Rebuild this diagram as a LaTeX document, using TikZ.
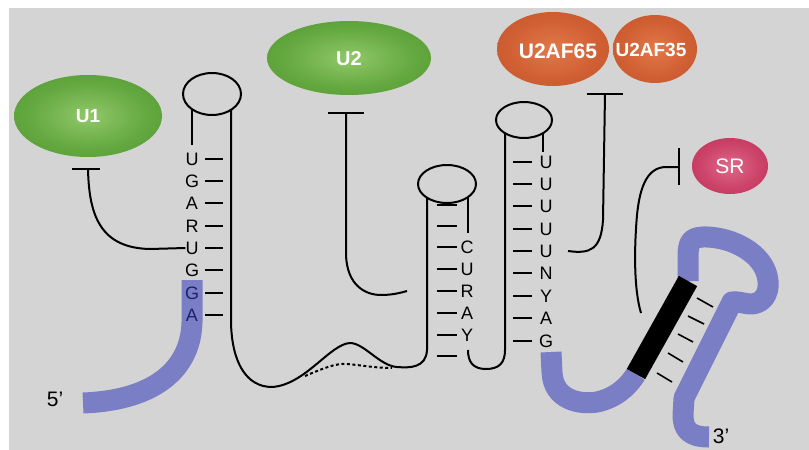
\documentclass[tikz,border=0pt]{standalone}
\usepackage{fontspec}
\setmainfont{Liberation Sans}
\usetikzlibrary{shapes.geometric}
\definecolor{bg}{RGB}{212,212,212}
\definecolor{rnac}{RGB}{122,126,196}
\definecolor{navy}{RGB}{30,32,110}
\definecolor{gin}{RGB}{145,200,105}
\definecolor{gmid}{RGB}{100,168,64}
\definecolor{gout}{RGB}{66,136,34}
\definecolor{oin}{RGB}{226,120,72}
\definecolor{omid}{RGB}{208,96,52}
\definecolor{oout}{RGB}{186,72,32}
\definecolor{sin}{RGB}{222,105,138}
\definecolor{smid}{RGB}{204,66,104}
\definecolor{sout}{RGB}{180,32,76}
\pgfdeclareradialshading{shG}{\pgfpoint{0bp}{0bp}}{color(0bp)=(gin); color(20bp)=(gmid); color(50bp)=(gout)}
\pgfdeclareradialshading{shO}{\pgfpoint{0bp}{0bp}}{color(0bp)=(oin); color(20bp)=(omid); color(50bp)=(oout)}
\pgfdeclareradialshading{shS}{\pgfpoint{0bp}{0bp}}{color(0bp)=(sin); color(20bp)=(smid); color(50bp)=(sout)}
\tikzset{
  ln/.style={line width=2pt, draw=black, line join=round},
  rna/.style={line width=21pt, draw=rnac},
  nt/.style={inner sep=0pt, text height=12.9pt, text depth=0pt, font=\fontsize{18}{20}\selectfont},
  lbl/.style={inner sep=0pt, text height=15pt, text depth=0pt, font=\fontsize{21}{22}\selectfont},
  loopc/.style={ellipse, draw, line width=2pt, fill=bg, inner sep=0pt},
  prot/.style={ellipse, inner sep=0pt, text=white},
  bpair/.style={line width=1.6pt, draw=black},
  dsh/.style={line width=2pt, draw=black},
}
\begin{document}
\begin{tikzpicture}[x=1pt,y=-1pt]
\useasboundingbox (0,0) rectangle (809,450);
\fill[white] (0,0) rectangle (809,450);
\fill[bg] (9,8) rectangle (809,450);

% proteins
\node[prot, shading=shG, minimum width=148pt, minimum height=82pt, text height=13.6pt, text depth=0pt, font=\bfseries\fontsize{19}{20}\selectfont] (U1) at (88,116) {U1};
\node[prot, shading=shG, minimum width=164pt, minimum height=74pt, text height=14.3pt, text depth=0pt, font=\bfseries\fontsize{20}{21}\selectfont] (U2) at (349,58) {U2};
\node[prot, shading=shO, minimum width=84pt, minimum height=68pt] (U35) at (655,49) {};
\node[prot, shading=shO, minimum width=112pt, minimum height=74pt] (U65) at (553,49) {};
\node[inner sep=0pt, text=white, text height=15pt, text depth=0pt, font=\bfseries\fontsize{21}{22}\selectfont] (t65) at (558,51) {U2AF65};
\node[inner sep=0pt, text=white, text height=13.6pt, text depth=0pt, font=\bfseries\fontsize{19}{20}\selectfont] (t35) at (651,50) {U2AF35};
\node[prot, shading=shS, minimum width=76pt, minimum height=56pt, text height=15pt, text depth=0pt, font=\fontsize{21}{22}\selectfont] (SR) at (730,166) {SR};

% RNA (purple)
\coordinate (b1) at (636,374);
\coordinate (b2) at (688,281);
\draw[rna] (192,280) -- (192,322) .. controls (191,365) and (160,400) .. (83,403);
\draw[rna] (551,352) -- (552,372) .. controls (553,400) and (580,405) .. (597,402) .. controls (615,398) and (627,388) .. (b1);
\draw[rna, line join=round] (b2) -- (688,258) .. controls (688,243) and (690,238) .. (702,237) .. controls (728,236) and (758,250) .. (766,272) .. controls (772,290) and (765,303) .. (752,304) .. controls (744,304) and (738,301) .. (732,302) -- (684,398) -- (683,415) .. controls (683,430) and (690,437) .. (709,437);
\draw[line width=21pt, draw=black] (b1) -- (b2);

% base pairs
\draw[bpair] (697,298) -- (713,307);
\draw[bpair] (688,316) -- (704,324);
\draw[bpair] (678,334) -- (693,342);
\draw[bpair] (668,353) -- (683,362);
\draw[bpair] (657,373) -- (672,382);

% strands
\draw[ln] (192,105) -- (192,145);
\draw[ln] (231,105) -- (231,323) .. controls (232,362) and (246,387) .. (272,387) .. controls (305,385) and (330,344) .. (350,343) .. controls (364,343) and (380,366) .. (397,367) .. controls (410,368) and (426,368) .. (427,350) -- (427,195);
\draw[ln, dash pattern=on 3pt off 2.5pt] (305,376) .. controls (322,369) and (335,363) .. (347,364) .. controls (360,365) and (375,368) .. (392,368);
\draw[ln] (468,195) -- (468,233);
\draw[ln] (468,350) .. controls (468,362) and (473,369) .. (486,369) .. controls (499,369) and (505,363) .. (505,350) -- (505,130);
\draw[ln] (543,130) -- (543,152);

% loops
\node[loopc, minimum width=58pt, minimum height=42pt] (L1) at (212,94) {};
\node[loopc, minimum width=58pt, minimum height=38pt] (L2) at (447,184) {};
\node[loopc, minimum width=56pt, minimum height=36pt] (L3) at (524,120) {};

% pairing dashes
\foreach \y in {159,181,203,226,248,270,293,315} \draw[dsh] (205,\y) -- (223,\y);
\foreach \y in {205,226,247,269,291,313,335,356} \draw[dsh] (437,\y) -- (457,\y);
\foreach \y in {162,184,206,229,251,273,296,318,341} \draw[dsh] (513,\y) -- (532,\y);

% letters
\foreach \l/\y/\n in {U/159/a1,G/181/a2,A/203/a3,R/226/a4,U/248/a5,G/270/a6}
  \node[nt] (\n) at (192,\y) {\l};
\node[nt, text=navy] (a7) at (192,293) {G};
\node[nt, text=navy] (a8) at (192,315) {A};
\foreach \l/\y/\n in {C/247/b1,U/269/b2,R/291/b3,A/313/b4,Y/335/b5}
  \node[nt] (\n) at (467,\y) {\l};
\foreach \l/\y/\n in {U/162/c1,U/184/c2,U/206/c3,U/229/c4,U/251/c5,N/273/c6,Y/296/c7,A/318/c8,G/341/c9}
  \node[nt] (\n) at (546,\y) {\l};

% T-bars (inhibition)
\coordinate (k1) at (88,169);
\draw[ln] (72,169) -- (100,169);
\draw[ln] (k1) .. controls (89,215) and (100,248) .. (150,249) -- (a5.west);
\coordinate (k2) at (346,113);
\draw[ln] (328,113) -- (364,113);
\draw[ln] (k2) -- (346,255) .. controls (347,285) and (365,295) .. (381,295) .. controls (392,295) and (400,293) .. (407,291);
\coordinate (k3) at (605,94);
\draw[ln] (587,94) -- (623,94);
\draw[ln] (k3) -- (603,220) .. controls (601,250) and (590,254) .. (568,251);
\coordinate (k4) at (679,167);
\draw[ln] (679,148) -- (679,185);
\draw[ln] (k4) -- (665,167) .. controls (648,168) and (640,185) .. (637,215) .. controls (634,250) and (634,290) .. (641,313);

% end labels
\node[lbl] (p5) at (55,399) {5'};
\node[lbl] (p3) at (721,436) {3'};
\end{tikzpicture}
\end{document}
